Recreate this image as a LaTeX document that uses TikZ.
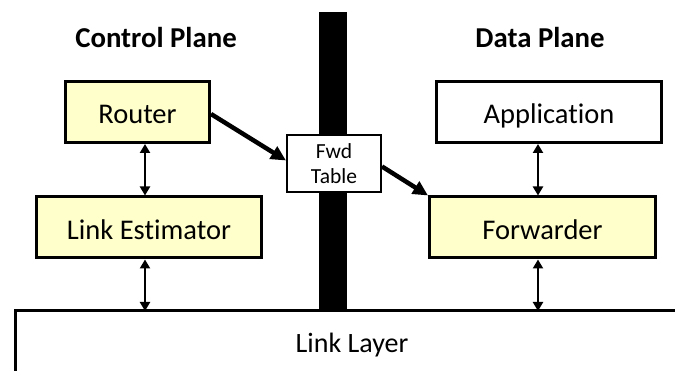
\documentclass[tikz,border=0pt]{standalone}
\usepackage{fontspec}
\setmainfont[Ligatures={NoCommon}]{Carlito}
\usetikzlibrary{arrows.meta}
\definecolor{boxyellow}{RGB}{255,255,204}
\tikzset{
  box/.style={draw=black, line width=3pt, minimum height=61pt, inner sep=0pt,
    text height=25pt, text depth=1pt, font=\fontsize{28.5}{32}\selectfont},
  ybox/.style={box, fill=boxyellow},
  bigarrow/.style={line width=4.5pt, -{Triangle[length=15pt,width=14pt]}},
  dbl/.style={line width=2.4pt, {Triangle[length=9pt,width=10pt]}-{Triangle[length=9pt,width=10pt]}},
  title/.style={font=\fontsize{28.8}{32}\selectfont\bfseries}
}
\begin{document}
\begin{tikzpicture}[x=1pt,y=-1pt]
\useasboundingbox (0,0) rectangle (675,371);
% black bar
\fill[black] (319,12) rectangle (347,311);
% link layer
\coordinate (llb) at (15,371);
\coordinate (ll) at (15,311);
\coordinate (llr) at (676,311);
\draw[line width=3pt] (llb) -- (ll) -- (llr);
\node[font=\fontsize{28}{32}\selectfont] (lltext) at (352,345) {Link Layer};
% titles
\node[title] (ctl) at (156,38) {Control Plane};
\node[title] (dat) at (540,38) {Data Plane};
% boxes
\node[ybox, minimum width=144pt] (router) at (137.5,112) {Router};
\node[ybox, minimum width=225pt] (le) at (149,227.5) {Link Estimator};
\node[box, fill=white, minimum width=225pt] (app) at (549,112) {Application};
\node[ybox, minimum width=226pt] (fw) at (542.5,227.5) {Forwarder};
\node[draw=black, line width=2pt, fill=white, minimum width=94pt, minimum height=57pt,
  inner sep=0pt, align=center, font=\fontsize{21.5}{25}\selectfont] (fwd) at (334,163.5) {Fwd\\Table};
% x positions of vertical arrows
\coordinate (cx) at (145,0);
\coordinate (dx) at (538,0);
% arrows
\draw[bigarrow] ([yshift=-2pt]router.east) -- ([yshift=3pt]fwd.west);
\draw[bigarrow] ([yshift=-3pt]fwd.east) -- (fw.north west);
\draw[dbl] (router.south -| cx) -- (le.north -| cx);
\draw[dbl] (le.south -| cx) -- (ll -| cx);
\draw[dbl] (app.south -| dx) -- (fw.north -| dx);
\draw[dbl] (fw.south -| dx) -- (ll -| dx);
\end{tikzpicture}
\end{document}
